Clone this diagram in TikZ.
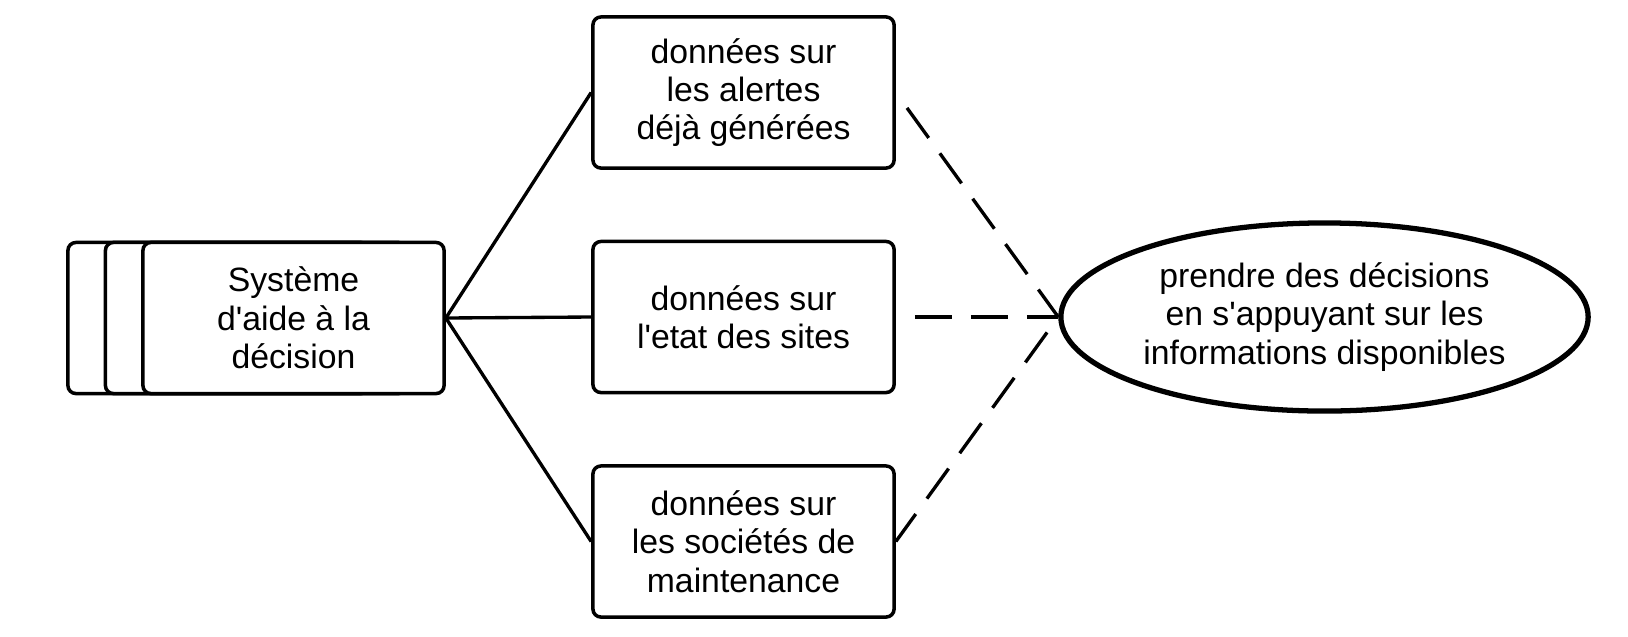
\documentclass[tikz,border=0pt]{standalone}
\usepackage{fontspec}
\setmainfont{Liberation Sans}
\usetikzlibrary{shapes.geometric}

\begin{document}
\begin{tikzpicture}[x=0.01cm,y=-0.01cm,
    box/.style = {rectangle,draw,fill=white,line width=1pt,rounded corners=0.08cm,minimum width=3.01cm,minimum height=1.51cm,inner sep=0pt,align=center,font=\fontsize{9.6}{10.9}\selectfont},
    goal/.style = {ellipse,draw,line width=1.5pt,minimum width=5.27cm,minimum height=1.88cm,inner sep=0pt,align=center,font=\fontsize{9.6}{10.9}\selectfont},
    link/.style = {line width=0.95pt},
    dashlink/.style = {line width=0.95pt,dash pattern=on 0.37cm off 0.19cm,dash phase=0.37cm}]
    \useasboundingbox (0,0) rectangle (1628,636);
    \foreach \x [count=\i] in {218.5,256} \node[box] (stack\i) at (\x,318) {};
    \node[box] (sad) at (293.5,318) {Système\\d\textquotesingle aide à la\\décision};
    \node[box] (alertes) at (743.5,92.5) {données sur\\les alertes\\déjà générées};
    \node[box] (etat) at (743.5,317) {données sur\\l\textquotesingle etat des sites};
    \node[box] (societes) at (743.5,541.5) {données sur\\les sociétés de\\maintenance};
    \node[goal] (decision) at (1324.5,317) {prendre des décisions\\en s\textquotesingle appuyant sur les\\informations disponibles};
    \foreach \n in {alertes,etat,societes} \draw[link] (sad.east) -- (\n.west);
    \draw[dashlink] (alertes.east) -- (decision.west);
    \draw[dashlink] (etat.east) -- (decision.west);
    \draw[dashlink] (decision.west) -- (societes.east);
\end{tikzpicture}
\end{document}
